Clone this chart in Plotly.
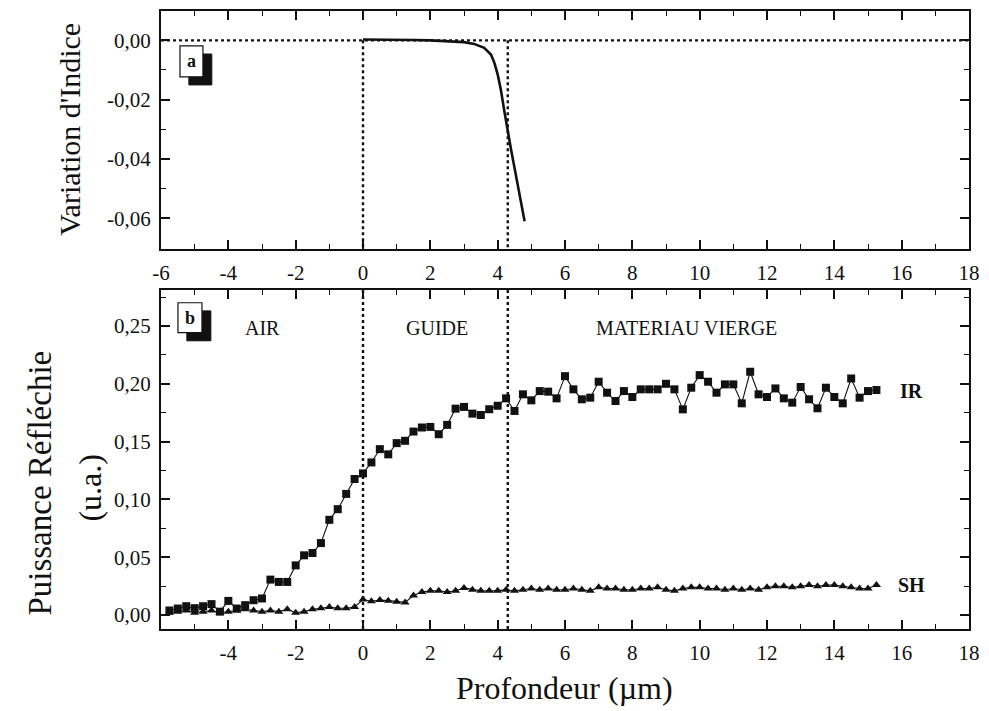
import plotly.graph_objects as go

# ---------------- DATA ----------------
# Panel a: index variation vs depth
depth_a = [0, 0.5, 1, 1.5, 2, 2.5, 3, 3.3, 3.6, 3.8, 3.9, 4.0, 4.1, 4.2, 4.3, 4.4, 4.5, 4.6, 4.7, 4.8]
index_var = [0.0003, 0.0003, 0.0002, 0.0001, 0.0, -0.0002, -0.0006, -0.0012, -0.0025, -0.0048,
             -0.0075, -0.0115, -0.017, -0.024, -0.031, -0.037, -0.043, -0.049, -0.055, -0.061]

# Panel b: reflected power vs depth (step 0.25 um, from -5.75 to 15.25)
depth_b = [-5.75 + 0.25 * k for k in range(85)]
ir = [0.004, 0.0057, 0.0077, 0.006, 0.0077, 0.0095, 0.003, 0.0123, 0.0057, 0.0086,
      0.0129, 0.0144, 0.0307, 0.0287, 0.0287, 0.043, 0.0517, 0.0537, 0.0623, 0.0824,
      0.0916, 0.1048, 0.1177, 0.1225, 0.132, 0.1435, 0.139, 0.1487, 0.1507, 0.1587,
      0.1622, 0.1627, 0.1564, 0.1645, 0.1785, 0.18, 0.1742, 0.173, 0.178, 0.181,
      0.1874,
      0.1765, 0.1909, 0.1857, 0.1937, 0.1932, 0.1874, 0.2066, 0.1952, 0.1866, 0.188,
      0.2018, 0.1923, 0.1851, 0.1937, 0.1886, 0.1952, 0.1952, 0.1952, 0.200, 0.1952,
      0.1779, 0.1966, 0.2075, 0.2018, 0.1923, 0.1995, 0.1995, 0.1831, 0.2104, 0.1909,
      0.1886, 0.196, 0.1874, 0.1837, 0.1972, 0.1866, 0.1788, 0.1966, 0.1886, 0.1831,
      0.2046, 0.188, 0.1937, 0.1946]
sh = [0.002, 0.003, 0.004, 0.002, 0.003, 0.004, 0.002, 0.003, 0.004, 0.005,
      0.004, 0.003, 0.004, 0.003, 0.005, 0.002, 0.003, 0.005, 0.006, 0.007,
      0.006, 0.006, 0.007, 0.0135, 0.012, 0.013, 0.0125, 0.0115, 0.011, 0.017,
      0.020, 0.021, 0.021, 0.020, 0.021, 0.0235, 0.022, 0.021, 0.021, 0.021,
      0.022,
      0.021, 0.022, 0.023, 0.022, 0.023, 0.022, 0.022, 0.023, 0.022, 0.021,
      0.024, 0.023, 0.023, 0.022, 0.022, 0.023, 0.023, 0.024, 0.022, 0.021,
      0.023, 0.024, 0.024, 0.023, 0.023, 0.022, 0.023, 0.022, 0.023, 0.022,
      0.024, 0.025, 0.025, 0.024, 0.025, 0.026, 0.025, 0.026, 0.026, 0.025,
      0.024, 0.023, 0.023, 0.026]

boundaries = [0, 4.3]          # air/guide and guide/substrate interfaces
regions = ["AIR", "GUIDE", "MATERIAU VIERGE"]
region_x = [-3.0, 2.2, 9.6]

xticks_a = list(range(-6, 19, 2))
xticks_a_text = [str(v) for v in xticks_a]
xticks_b = list(range(-4, 19, 2))
xticks_b_text = [str(v) for v in xticks_b]
yticks_a = [0.0, -0.02, -0.04, -0.06]
yticks_a_text = ["0,00", "-0,02", "-0,04", "-0,06"]
yticks_b = [0.0, 0.05, 0.10, 0.15, 0.20, 0.25]
yticks_b_text = ["0,00", "0,05", "0,10", "0,15", "0,20", "0,25"]

# ---------------- FIGURE ----------------
SERIF = "Liberation Serif"
BLACK = "#111111"

fig = go.Figure()
fig.add_trace(go.Scatter(x=depth_a, y=index_var, mode="lines",
                         line=dict(color=BLACK, width=2.6), xaxis="x", yaxis="y",
                         showlegend=False))
fig.add_trace(go.Scatter(x=depth_b, y=ir, mode="lines+markers",
                         line=dict(color=BLACK, width=1.1),
                         marker=dict(symbol="square", size=8, color=BLACK),
                         xaxis="x2", yaxis="y2", showlegend=False))
fig.add_trace(go.Scatter(x=depth_b, y=sh, mode="lines+markers",
                         line=dict(color=BLACK, width=1.1),
                         marker=dict(symbol="triangle-up", size=8, color=BLACK),
                         xaxis="x2", yaxis="y2", showlegend=False))

tickfont = dict(family=SERIF, size=21, color=BLACK)
common_x = dict(range=[-6, 18], showgrid=False, zeroline=False, showline=True,
                linecolor=BLACK, linewidth=2, mirror="allticks", ticks="inside",
                ticklen=9, tickwidth=1.6, tickcolor=BLACK, tickfont=tickfont,
                minor=dict(dtick=1, ticks="inside", ticklen=5, tickwidth=1.4, tickcolor=BLACK,
                           tick0=0),
                ticklabelstandoff=4)
common_y = dict(showgrid=False, zeroline=False, showline=True, linecolor=BLACK,
                linewidth=2, mirror="allticks", ticks="inside", ticklen=9, tickwidth=1.6,
                tickcolor=BLACK, tickfont=tickfont, ticklabelstandoff=4)

W, H = 989, 711
ML, MR, MT, MB = 161, 19, 9, 82
PH = H - MT - MB  # plot height (620)

def py_to_paper(py):
    return (H - MB - py) / PH

def px_to_paper(px):
    return (px - ML) / (W - ML - MR)

dom_a = [py_to_paper(247.5), py_to_paper(9)]
dom_b = [py_to_paper(629), py_to_paper(289)]

fig.update_layout(
    width=W, height=H,
    margin=dict(l=ML, r=MR, t=MT, b=MB),
    paper_bgcolor="white", plot_bgcolor="white",
    xaxis=dict(common_x, anchor="y", tickvals=xticks_a, ticktext=xticks_a_text, domain=[0, 1]),
    yaxis=dict(common_y, anchor="x", domain=dom_a, range=[-0.0703, 0.0099],
               tickvals=yticks_a, ticktext=yticks_a_text,
               minor=dict(dtick=0.01, tick0=0, ticks="inside", ticklen=5, tickwidth=1.4,
                          tickcolor=BLACK)),
    xaxis2=dict(common_x, anchor="y2", tickvals=xticks_b, ticktext=xticks_b_text, domain=[0, 1]),
    yaxis2=dict(common_y, anchor="x2", domain=dom_b, range=[-0.012, 0.281],
                tickvals=yticks_b, ticktext=yticks_b_text,
                minor=dict(dtick=0.025, tick0=0, ticks="inside", ticklen=5, tickwidth=1.4,
                           tickcolor=BLACK)),
)

dot = dict(color=BLACK, width=2.4, dash="dot")
shapes = []
# horizontal zero line in panel a
shapes.append(dict(type="line", xref="x domain", yref="y", x0=0, x1=1, y0=0, y1=0, line=dot))
for b in boundaries:
    shapes.append(dict(type="line", xref="x", yref="y", x0=b, x1=b, y0=0, y1=-0.0703, line=dot))
    shapes.append(dict(type="line", xref="x2", yref="y2 domain", x0=b, x1=b, y0=0, y1=1, line=dot))

# panel label boxes (shadow + white box)
def label_box(xr, yr, x0, x1, y0, y1, dx, dy):
    return [
        dict(type="rect", xref=xr, yref=yr, x0=x0 + dx, x1=x1 + dx, y0=y0 - dy, y1=y1 - dy,
             fillcolor=BLACK, line=dict(color=BLACK, width=1)),
        dict(type="rect", xref=xr, yref=yr, x0=x0, x1=x1, y0=y0, y1=y1,
             fillcolor="white", line=dict(color=BLACK, width=1.2)),
    ]

shapes += label_box("x domain", "y domain", 0.0235, 0.0519, 0.723, 0.853, 0.011, 0.034)
shapes += label_box("x2 domain", "y2 domain", 0.021, 0.0507, 0.8744, 0.9626, 0.011, 0.024)
fig.update_layout(shapes=shapes)

C = dict(showarrow=False, xanchor="center", yanchor="middle")
ann = []
ann.append(dict(C, text="<b>a</b>", xref="x domain", yref="y domain", x=0.0377, y=0.788,
                font=dict(family=SERIF, size=18, color=BLACK)))
ann.append(dict(C, text="<b>b</b>", xref="x2 domain", yref="y2 domain", x=0.0358, y=0.9185,
                font=dict(family=SERIF, size=18, color=BLACK)))
for name, rx in zip(regions, region_x):
    ann.append(dict(C, text=name, xref="x2", yref="y2", x=rx, y=0.2485,
                    font=dict(family=SERIF, size=20, color=BLACK)))
ann.append(dict(C, text="<b>IR</b>", xref="x2", yref="y2", x=16.28, y=0.194,
                font=dict(family=SERIF, size=20, color=BLACK)))
ann.append(dict(C, text="<b>SH</b>", xref="x2", yref="y2", x=16.28, y=0.026,
                font=dict(family=SERIF, size=20, color=BLACK)))
# axis titles
ann.append(dict(C, text="Profondeur (µm)", xref="paper", yref="paper",
                x=px_to_paper(565), y=py_to_paper(688),
                font=dict(family=SERIF, size=32, color=BLACK)))
ann.append(dict(C, text="Variation d'Indice", xref="paper", yref="paper",
                x=px_to_paper(70), y=py_to_paper(128), textangle=-90,
                font=dict(family=SERIF, size=30, color=BLACK)))
ann.append(dict(C, text="Puissance Réfléchie", xref="paper", yref="paper",
                x=px_to_paper(40), y=py_to_paper(483), textangle=-90,
                font=dict(family=SERIF, size=33, color=BLACK)))
ann.append(dict(C, text="(u.a.)", xref="paper", yref="paper",
                x=px_to_paper(90), y=py_to_paper(487), textangle=-90,
                font=dict(family=SERIF, size=32, color=BLACK)))
fig.update_layout(annotations=ann)

# remove the default page margin so the figure fills the 989x711 window exactly
fig.write_html("out.html", config={"displayModeBar": False},
               post_script="document.body.style.margin='0';")
